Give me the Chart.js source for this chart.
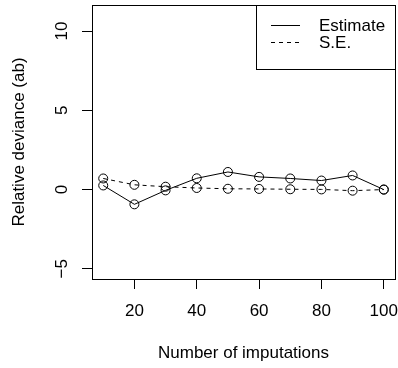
<!DOCTYPE html>
<html>
<head>
<meta charset="utf-8">
<script src="https://cdn.jsdelivr.net/npm/chart.js@4/dist/chart.umd.min.js"></script>
<style>
  html, body { margin: 0; padding: 0; background: #fff; }
  canvas { display: block; }
</style>
</head>
<body>
<canvas id="chart" width="398" height="368"></canvas>
<script>
const imputations = [10, 20, 30, 40, 50, 60, 70, 80, 90, 100];
const estimate = [0.26, -0.93, -0.05, 0.71, 1.11, 0.80, 0.70, 0.57, 0.89, 0.00];
const se = [0.70, 0.30, 0.18, 0.10, 0.05, 0.04, 0.02, 0.01, -0.07, 0.00];
const xTicks = [20, 40, 60, 80, 100];
const yTicks = [-5, 0, 5, 10];
const seriesNames = ["Estimate", "S.E."];

const FONT = "'Liberation Sans', Arial, Helvetica, sans-serif";
const FS = 17;

// frame, rotated y tick labels and the legend box
const basePlot = {
  id: "basePlot",
  afterDraw(chart) {
    const { ctx, chartArea: a, scales } = chart;
    ctx.save();
    ctx.strokeStyle = "#000";
    ctx.lineWidth = 1;
    ctx.strokeRect(a.left + 0.5, a.top + 0.5, a.right - a.left, a.bottom - a.top);

    ctx.fillStyle = "#000";
    ctx.font = FS + "px " + FONT;
    ctx.textAlign = "center";
    ctx.textBaseline = "middle";
    yTicks.forEach(v => {
      const y = scales.y.getPixelForValue(v);
      ctx.save();
      ctx.translate(62, y);
      ctx.rotate(-Math.PI / 2);
      ctx.fillText(String(v).replace("-", "\u2212"), 0, 0);
      ctx.restore();
    });

    // legend
    const lx = 256.5, ly = 5.5, lw = a.right - 256, lh = 64;
    ctx.fillStyle = "#fff";
    ctx.fillRect(lx, ly, lw, lh);
    ctx.strokeRect(lx, ly, lw, lh);
    const rows = [25, 42];
    chart.data.datasets.forEach((ds, i) => {
      ctx.beginPath();
      ctx.setLineDash(ds.borderDash || []);
      ctx.moveTo(271, rows[i] + 0.5);
      ctx.lineTo(300, rows[i] + 0.5);
      ctx.stroke();
      ctx.setLineDash([]);
      ctx.fillStyle = "#000";
      ctx.textAlign = "left";
      ctx.fillText(ds.label, 319, rows[i] + 1);
    });
    ctx.restore();
  }
};

new Chart(document.getElementById("chart"), {
  type: "line",
  data: {
    labels: imputations,
    datasets: [
      {
        label: seriesNames[0],
        data: imputations.map((x, i) => ({ x, y: estimate[i] })),
        borderColor: "#000",
        borderWidth: 1,
        pointRadius: 4.5,
        pointBorderWidth: 1,
        pointBorderColor: "#000",
        pointBackgroundColor: "rgba(0,0,0,0)",
        tension: 0,
      },
      {
        label: seriesNames[1],
        data: imputations.map((x, i) => ({ x, y: se[i] })),
        borderColor: "#000",
        borderWidth: 1,
        borderDash: [4, 4],
        pointRadius: 4.5,
        pointBorderWidth: 1,
        pointBorderColor: "#000",
        pointBackgroundColor: "rgba(0,0,0,0)",
        tension: 0,
      },
    ],
  },
  options: {
    responsive: false,
    animation: false,
    devicePixelRatio: 1,
    layout: { autoPadding: false, padding: { top: 5, right: 3, left: 0, bottom: 0 } },
    plugins: { legend: { display: false }, tooltip: { enabled: false } },
    scales: {
      x: {
        type: "linear",
        min: 6.4,
        max: 103.6,
        afterBuildTicks: s => { s.ticks = xTicks.map(v => ({ value: v })); },
        afterFit: s => { s.height = 89; s.paddingLeft = 0; s.paddingRight = 0; },
        border: { display: false },
        grid: { drawOnChartArea: false, drawTicks: true, tickLength: 10, color: "#000" },
        ticks: { color: "#000", padding: 12, maxRotation: 0, font: { family: FONT, size: FS } },
        title: {
          display: true,
          text: "Number of imputations",
          color: "#000",
          font: { family: FONT, size: FS },
          padding: { top: 0, bottom: 4 },
        },
      },
      y: {
        min: -5.64,
        max: 11.64,
        afterBuildTicks: s => { s.ticks = yTicks.map(v => ({ value: v })); },
        afterFit: s => { s.width = 92; s.paddingTop = 0; s.paddingBottom = 0; },
        border: { display: false },
        grid: { drawOnChartArea: false, drawTicks: true, tickLength: 10, color: "#000" },
        ticks: { display: false },
        title: {
          display: true,
          text: "Relative deviance (ab)",
          color: "#000",
          font: { family: FONT, size: FS },
          padding: { top: 9, bottom: 0 },
        },
      },
    },
  },
  plugins: [basePlot],
});
</script>
</body>
</html>
